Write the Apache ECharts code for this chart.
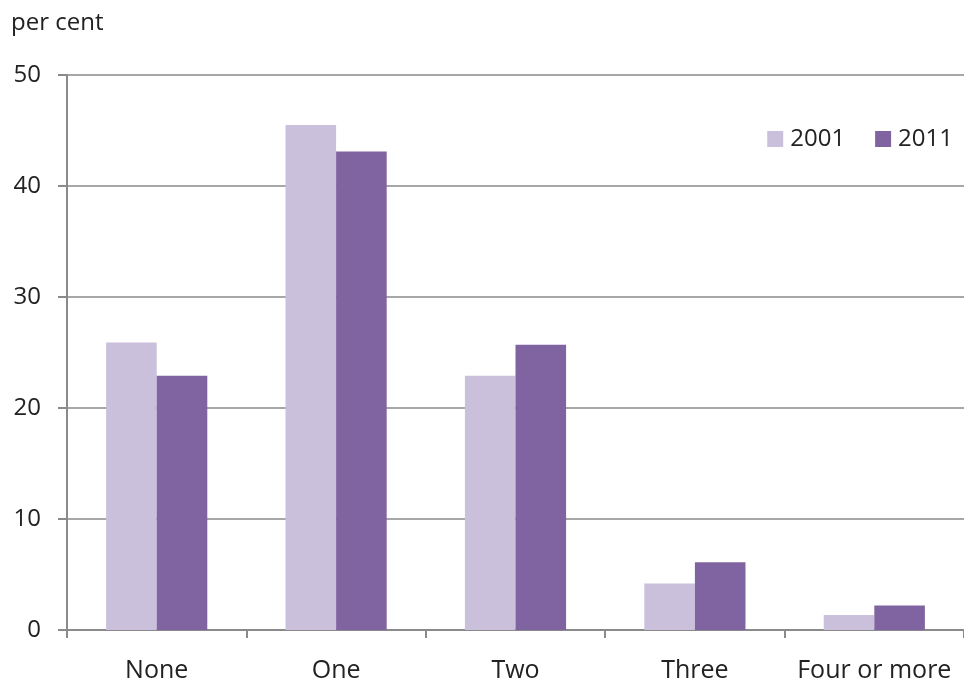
<!DOCTYPE html>
<html><head><meta charset="utf-8">
<script src="https://cdn.jsdelivr.net/npm/echarts@6/dist/echarts.min.js"></script>
<style>html,body{margin:0;padding:0;background:#fff}#c{width:964px;height:683px}</style>
</head><body><div id="c"></div>
<script>
const categories = ['None', 'One', 'Two', 'Three', 'Four or more'];
const values2001 = [25.9, 45.5, 22.9, 4.2, 1.35];
const values2011 = [22.9, 43.1, 25.7, 6.1, 2.2];
const seriesNames = ['2001', '2011'];
const yTicks = {min: 0, max: 50, interval: 10};

const font = '"Open Sans", Lato, sans-serif';
const chart = echarts.init(document.getElementById('c'));
chart.setOption({
  animation: false,
  backgroundColor: '#fff',
  title: {text: 'per cent', left: 6, top: 6, textStyle: {fontFamily: font, fontSize: 24, fontWeight: 'normal', color: '#222'}},
  legend: {
    data: seriesNames, right: 6, top: 122, itemWidth: 16, itemHeight: 16, itemGap: 30,
    icon: 'rect', textStyle: {fontFamily: font, fontSize: 24, color: '#222', padding: [0, 0, 0, 2]}
  },
  grid: {left: 67, top: 75, right: 0, bottom: 53, containLabel: false},
  xAxis: {
    type: 'category', data: categories,
    axisLine: {lineStyle: {color: '#8a8a8a', width: 2}},
    axisTick: {show: true, length: 8, lineStyle: {color: '#8a8a8a', width: 2}},
    axisLabel: {interval: 0, fontFamily: font, fontSize: 25, color: '#222', margin: 28}
  },
  yAxis: {
    type: 'value', min: yTicks.min, max: yTicks.max, interval: yTicks.interval,
    axisLine: {show: true, lineStyle: {color: '#8a8a8a', width: 2}},
    axisTick: {show: true, length: 9, lineStyle: {color: '#8a8a8a', width: 2}},
    splitLine: {lineStyle: {color: '#8a8a8a', width: 1.5}},
    axisLabel: {fontFamily: font, fontSize: 24, color: '#222', margin: 26}
  },
  series: [
    {name: seriesNames[0], type: 'bar', data: values2001, barGap: '0%', barCategoryGap: '43.6%',
     itemStyle: {color: '#CBC0DB'}},
    {name: seriesNames[1], type: 'bar', data: values2011, barGap: '0%', barCategoryGap: '43.6%',
     itemStyle: {color: '#8064A2'}}
  ]
});
</script></body></html>
